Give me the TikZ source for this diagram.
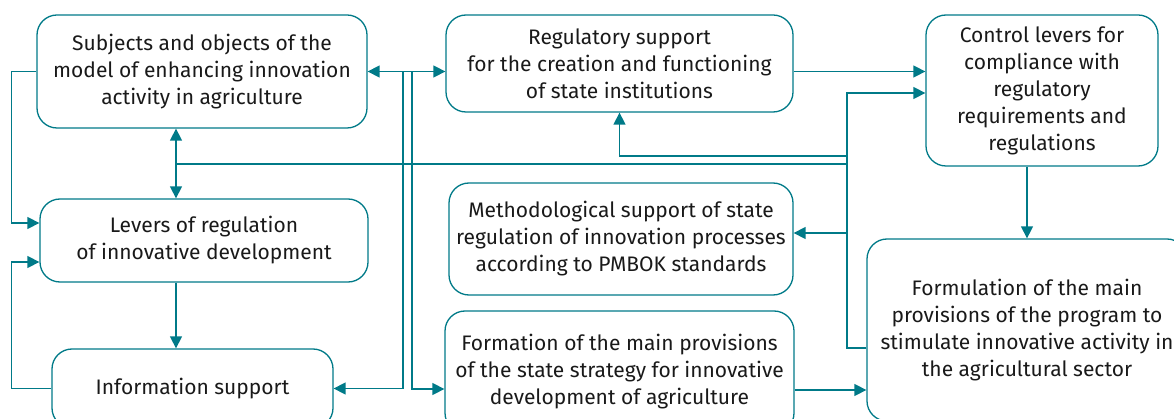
\documentclass[tikz,border=0pt]{standalone}
\usepackage{fontspec}
\setmainfont{Fira Sans}
\usetikzlibrary{arrows.meta}
\definecolor{teal}{RGB}{0,122,136}
\begin{document}
\begin{tikzpicture}[x=1pt,y=-1pt,
    box/.style={draw=teal,line width=1.3pt,rounded corners=20pt,align=center,
      inner sep=0pt,text=black!90,font=\fontsize{21}{27}\selectfont},
    link/.style={draw=teal,line width=1.4pt},
    arr/.style={link,-{Triangle[length=12pt,width=12pt]}},
    arrs/.style={link,{Triangle[length=12pt,width=12pt]}-{Triangle[length=12pt,width=12pt]}}]
  \useasboundingbox (0,0) rectangle (1174,419);
  \clip (0,0) rectangle (1174,419);
  \path (202,71.5) node[box,minimum width=330pt,minimum height=113pt] (A)
    {Subjects and objects of the\\model of enhancing innovation\\activity in agriculture};
  \path (204,240.5) node[box,minimum width=328pt,minimum height=83pt] (B)
    {Levers of regulation\\of innovative development};
  \path (192.5,388.5) node[box,minimum width=281pt,minimum height=79pt] (C)
    {Information support};
  \path (619.5,63.5) node[box,minimum width=347pt,minimum height=97pt] (D)
    {Regulatory support\\for the creation and functioning\\of state institutions};
  \path (621,239) node[box,minimum width=344pt,minimum height=112pt] (E)
    {Methodological support of state\\regulation of innovation processes\\according to PMBOK standards};
  \path (619.5,372) node[box,minimum width=349pt,minimum height=122pt] (F)
    {Formation of the main provisions\\of the state strategy for innovative\\development of agriculture};
  \path (1042,90.5) node[box,minimum width=232pt,minimum height=151pt] (G)
    {Control levers for\\compliance with\\regulatory\\requirements and\\regulations};
  \path (1027,330) node[box,minimum width=320pt,minimum height=182pt] (H)
    {Formulation of the main\\provisions of the program to\\stimulate innovative activity in\\the agricultural sector};

  \coordinate (jAB) at (176,164);
  \coordinate (v1) at (403,72);
  \coordinate (v2) at (412,72);
  \coordinate (bus) at (847,93);
  \coordinate (jD) at (847,156);
  \coordinate (jE) at (847,233);

  \draw[arr] (A.west) -- ++(-25,0) |- ([yshift=17.5pt]B.west);
  \draw[arr] (C.west) -- ++(-40,0) |- ([yshift=-21.5pt]B.west);
  \draw[arrs] (A.south -| jAB) -- (B.north -| jAB);
  \draw[arr] (B.south -| jAB) -- (C.north -| jAB);
  \draw[link] (jAB) -- (jAB -| bus);
  \draw[arrs] (A.east) -- (D.west |- A.east);
  \draw[arr] (v1) |- (C.east);
  \draw[arr] (v2) |- ([yshift=-17pt]F.west);
  \draw[arr] (D.east |- A.east) -- (G.west |- A.east);
  \draw[arr] ([yshift=-18pt]H.west) -| (bus) -- (G.west |- bus);
  \draw[arr] (jE) -- (E.east |- jE);
  \draw[arr] (jD) -| (D.south);
  \draw[arr] ([yshift=-18pt]F.east) -- ([yshift=-18pt]F.east -| H.west);
  \draw[arr] (G.south -| H.north) -- (H.north);
\end{tikzpicture}
\end{document}
